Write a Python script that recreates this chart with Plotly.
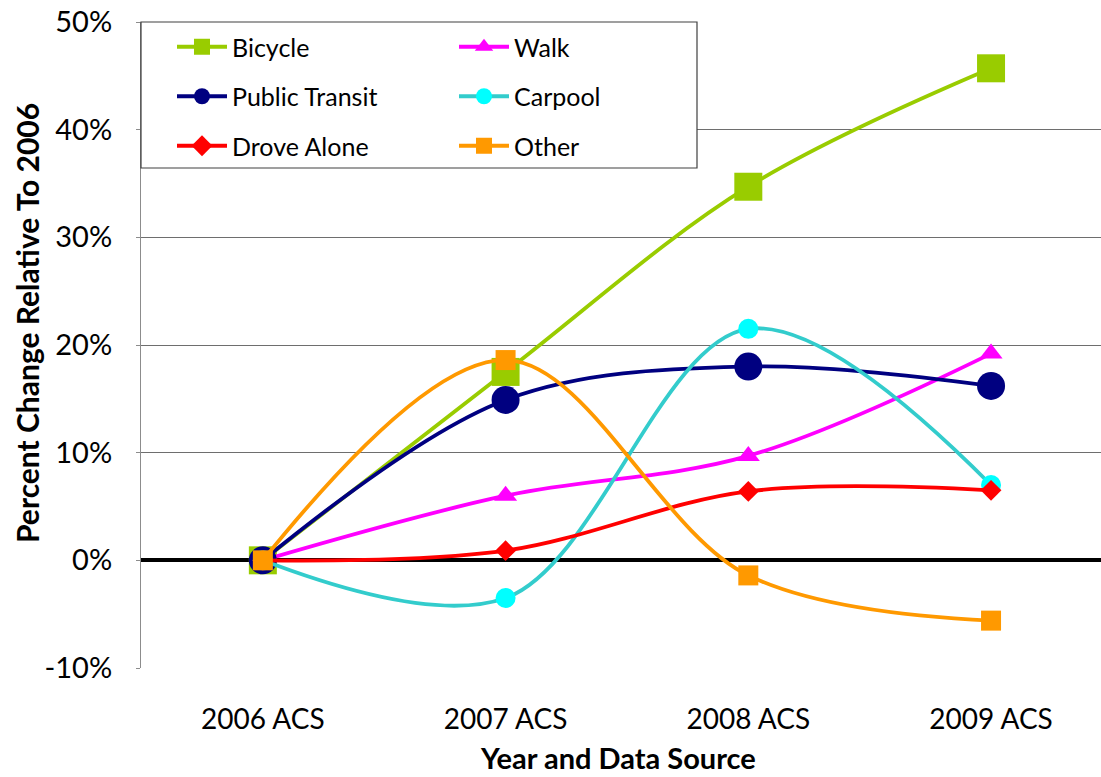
import plotly.graph_objects as go

categories = ["2006 ACS", "2007 ACS", "2008 ACS", "2009 ACS"]
bicycle = [0.0, 17.5, 34.7, 45.7]
public_transit = [0.0, 14.9, 18.0, 16.2]
drove_alone = [0.0, 0.9, 6.4, 6.5]
walk = [0.0, 6.0, 9.7, 19.2]
carpool = [0.0, -3.5, 21.5, 7.0]
other = [0.0, 18.6, -1.4, -5.6]
y_ticks = [-10, 0, 10, 20, 30, 40, 50]
y_tick_labels = [f"{v}%" for v in y_ticks]

FONT = "Lato"
xpos = list(range(len(categories)))

# (name, values, line colour, marker colour, symbol, size, legend)
series = [
    ("Bicycle", bicycle, "#99CC00", "#99CC00", "square", 28, "legend"),
    ("Walk", walk, "#FF00FF", "#FF00FF", "triangle-up", 20, "legend2"),
    ("Public Transit", public_transit, "#000080", "#000080", "circle", 28, "legend"),
    ("Carpool", carpool, "#33CCCC", "#00FFFF", "circle", 20, "legend2"),
    ("Drove Alone", drove_alone, "#FF0000", "#FF0000", "diamond", 16, "legend"),
    ("Other", other, "#FF9900", "#FF9900", "square", 20, "legend2"),
]
legend_rank = {"Bicycle": 1, "Public Transit": 2, "Drove Alone": 3,
               "Walk": 1, "Carpool": 2, "Other": 3}

fig = go.Figure()
for name, vals, lc, mc, sym, size, leg in series:
    fig.add_trace(go.Scatter(
        x=xpos, y=vals, name=name, mode="lines+markers",
        line=dict(color=lc, width=3.8, shape="spline", smoothing=1.0),
        marker=dict(symbol=sym, size=size, color=mc, line=dict(width=0)),
        legend=leg, legendgroup=name, legendrank=legend_rank[name],
    ))

W, H = 1101, 777
L, T, B, R = 141, 22, 109, 0
pw, ph = W - L - R, H - T - B

def px_x(x):
    return (x - L) / pw

def px_y(y):
    return (H - B - y) / ph

leg_common = dict(
    bgcolor="rgba(0,0,0,0)", borderwidth=0,
    font=dict(family=FONT, size=25, color="black"),
    traceorder="grouped", tracegroupgap=14,
    xanchor="left", yanchor="top", itemsizing="trace",
    itemwidth=50,
)

fig.update_layout(
    width=W, height=H,
    margin=dict(l=L, r=R, t=T, b=B),
    paper_bgcolor="white", plot_bgcolor="white",
    font=dict(family=FONT, color="black"),
    showlegend=True,
    legend=dict(x=px_x(172), y=px_y(24), **leg_common),
    legend2=dict(x=px_x(454), y=px_y(24), **leg_common),
    xaxis=dict(
        range=[-0.502, 3.453], tickvals=xpos, ticktext=categories,
        showgrid=False, zeroline=False, showline=False, ticks="",
        tickfont=dict(family=FONT, size=28, color="black"),
        ticklabelstandoff=32,
    ),
    yaxis=dict(
        range=[-10, 50], tickvals=y_ticks, ticktext=y_tick_labels,
        showgrid=True, gridcolor="#6e6e6e", gridwidth=1,
        zeroline=True, zerolinecolor="black", zerolinewidth=4,
        showline=True, linecolor="#8c8c8c", linewidth=1,
        ticks="outside", ticklen=4, tickcolor="#8c8c8c",
        tickfont=dict(family=FONT, size=29, color="black"),
        ticklabelstandoff=18,
    ),
    shapes=[dict(
        type="rect", xref="paper", yref="paper", layer="above",
        x0=px_x(141), x1=px_x(697), y0=px_y(168), y1=px_y(22),
        fillcolor="white", line=dict(color="#404040", width=1.2),
    )],
    annotations=[
        dict(text="<b>Year and Data Source</b>", xref="paper", yref="paper",
             x=px_x(618), y=px_y(776), showarrow=False,
             font=dict(family=FONT, size=29, color="black"),
             xanchor="center", yanchor="bottom", borderpad=0),
        dict(text="<b>Percent Change Relative To 2006</b>", xref="paper", yref="paper",
             x=px_x(27), y=px_y(323), showarrow=False, textangle=-90,
             font=dict(family=FONT, size=30, color="black"),
             xanchor="center", yanchor="middle"),
    ],
)

fig.write_html("out.html", config={"displayModeBar": False})
with open("out.html", "r", encoding="utf-8") as f:
    html = f.read()
html = html.replace("<head>", "<head><style>html,body{margin:0;padding:0;overflow:hidden;}</style>", 1)
with open("out.html", "w", encoding="utf-8") as f:
    f.write(html)
